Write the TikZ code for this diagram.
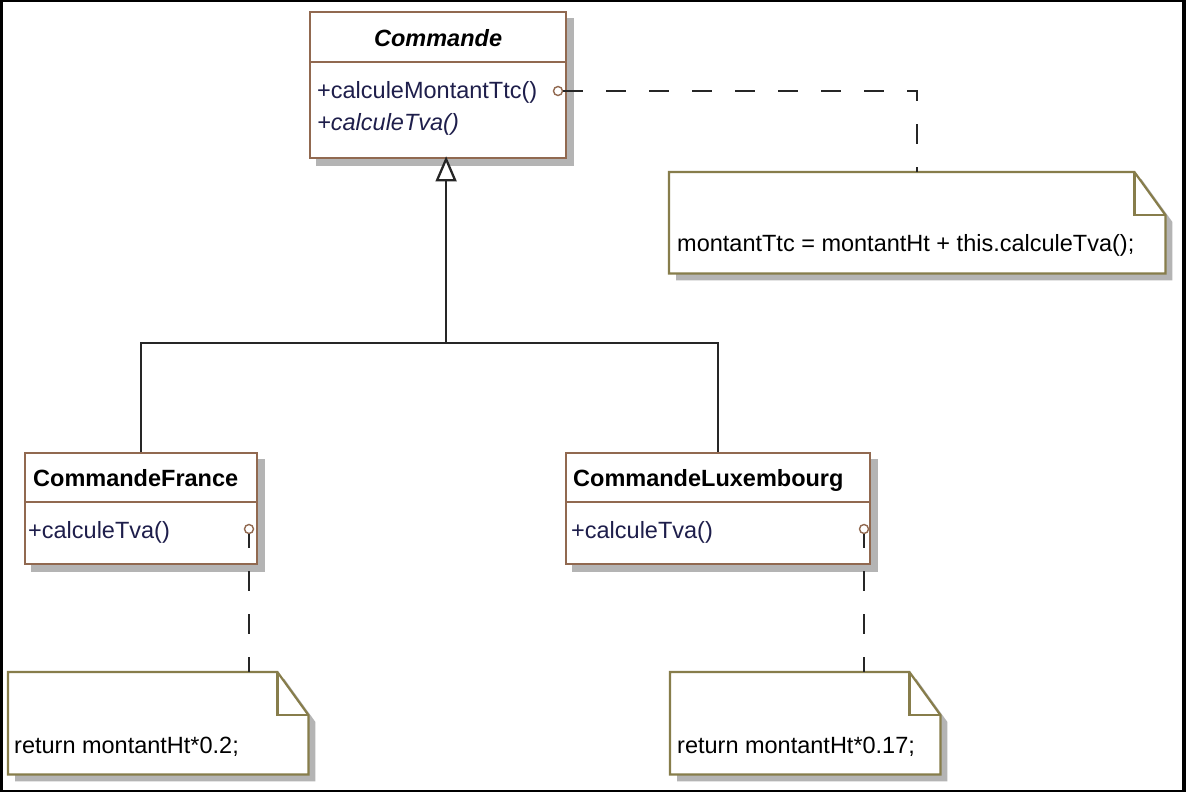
\documentclass[tikz,border=0pt]{standalone}
\usepackage{fontspec}
\setmainfont{Liberation Sans}
\usetikzlibrary{backgrounds}
\definecolor{clsline}{RGB}{145,105,80}
\definecolor{noteline}{RGB}{135,125,75}
\definecolor{shadowc}{RGB}{180,180,180}
\definecolor{methc}{RGB}{30,30,75}
\begin{document}
\begin{tikzpicture}[x=1pt,y=-1pt,
  font=\fontsize{23.5}{28}\selectfont,
  clsbox/.style={rectangle, draw=clsline, line width=2.2pt, fill=white, inner sep=0pt, anchor=north west},
  notebox/.style={rectangle, draw=none, inner sep=0pt, anchor=north west},
  meth/.style={anchor=base west, inner sep=0pt, text=methc},
  cname/.style={anchor=base west, inner sep=0pt, font=\fontsize{23.5}{28}\selectfont\bfseries},
  port/.style={circle, draw=clsline, fill=white, line width=1.4pt, minimum size=9pt, inner sep=0pt},
  dep/.style={draw=black!85, line width=2.3pt, dash pattern=on 20pt off 23pt},
  gen/.style={draw=black!85, line width=2.3pt},
  notetxt/.style={anchor=base west, inner sep=0pt, text=black},
  noteedge/.style={draw=noteline, line width=2.2pt, line join=miter}
]
% class boxes
\node[clsbox, minimum width=256pt, minimum height=146pt] (c) at (309,11) {};
\node[clsbox, minimum width=232pt, minimum height=111pt] (cF) at (24,452) {};
\node[clsbox, minimum width=304pt, minimum height=111pt] (cL) at (565,452) {};
% note areas
\node[notebox, minimum width=496pt, minimum height=101pt] (n1) at (669,172) {};
\node[notebox, minimum width=300pt, minimum height=102pt] (n2) at (8,672) {};
\node[notebox, minimum width=270pt, minimum height=102pt] (n3) at (670,672) {};

% background, frame and shadows
\begin{scope}[on background layer]
  \fill[black] (0,0) rectangle (1186,792);
  \fill[white] (3,2.5) rectangle (1182,789.5);
  \foreach \bb in {c,cF,cL}
    \fill[shadowc] ([shift={(7pt,-7pt)}]\bb.north west) rectangle ([shift={(7pt,-7pt)}]\bb.south east);
  \foreach \nn in {n1,n2,n3}
    \fill[shadowc] ([shift={(7pt,-7pt)}]\nn.north west) -- ([shift={(-24pt,-7pt)}]\nn.north east)
      -- ([shift={(7pt,-50pt)}]\nn.north east) -- ([shift={(7pt,-7pt)}]\nn.south east)
      -- ([shift={(7pt,-7pt)}]\nn.south west) -- cycle;
\end{scope}

% note outlines
\foreach \nn in {n1,n2,n3} {
  \draw[noteedge, fill=white] (\nn.north west) -- ([xshift=-31pt]\nn.north east)
    -- ([yshift=-43pt]\nn.north east) -- (\nn.south east) -- (\nn.south west) -- cycle;
  \draw[noteedge] ([xshift=-31pt]\nn.north east) -- ([xshift=-31pt,yshift=-43pt]\nn.north east)
    -- ([yshift=-43pt]\nn.north east);
}

% class compartments
\draw[clsline, line width=2.2pt] ([yshift=-51pt]c.north west) -- ([yshift=-51pt]c.north east);
\draw[clsline, line width=2.2pt] ([yshift=-50pt]cF.north west) -- ([yshift=-50pt]cF.north east);
\draw[clsline, line width=2.2pt] ([yshift=-50pt]cL.north west) -- ([yshift=-50pt]cL.north east);

% class texts
\node[anchor=base, inner sep=0pt] (cN) at ([yshift=-36pt]c.north) {\textbf{\textit{Commande}}};
\node[meth] (m1) at (317,99) {+calculeMontantTtc()};
\node[meth] (m2) at (317,130) {\textit{+calculeTva()}};
\node[cname] (fN) at (33,486) {CommandeFrance};
\node[meth] (fM) at (28,538) {+calculeTva()};
\node[cname] (lN) at (573,486) {CommandeLuxembourg};
\node[meth] (lM) at (571,538) {+calculeTva()};

% note texts
\node[notetxt] (t1) at (677,251) {montantTtc = montantHt + this.calculeTva();};
\node[notetxt] (t2) at (14,753) {return montantHt*0.2;};
\node[notetxt] (t3) at (677,753) {return montantHt*0.17;};

% ports
\node[port] (p1) at (558,91) {};
\node[port] (p2) at (249,529) {};
\node[port] (p3) at (864,529) {};

% note attachments
\draw[dep] (p1.east) -| (n1.north);
\draw[dep, dash phase=6pt] (p2.south) -- (p2.south |- n2.north);
\draw[dep, dash phase=6pt] (p3.south) -- (p3.south |- n3.north);

% generalization
\coordinate (tri) at ([xshift=8pt]c.south);
\coordinate (trib) at ([yshift=-21pt]tri);
\coordinate (bus) at (0,343);
\draw[gen] (trib) -- (trib |- bus);
\draw[gen] (cF.north) -- (cF.north |- bus) -- (cL.north |- bus) -- (cL.north);
\draw[gen, fill=white, line join=miter] (tri) -- ++(-9,21) -- ++(18,0) -- cycle;
\end{tikzpicture}
\end{document}
